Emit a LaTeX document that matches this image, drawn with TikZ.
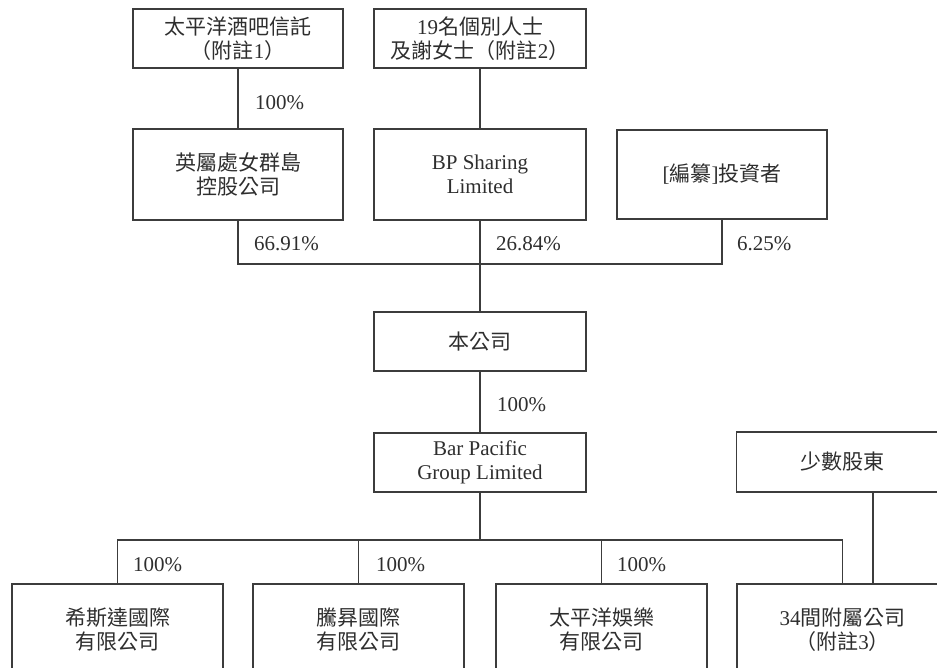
\documentclass[tikz,border=0pt]{standalone}
\usepackage{fontspec}
\setmainfont{Liberation Serif}
\newfontfamily\cj{Noto Sans CJK TC}[Scale=1.0]
\definecolor{linec}{HTML}{3C3C3C}
\definecolor{textc}{HTML}{2E2E2E}
\begin{document}
\begin{tikzpicture}[x=1pt,y=-1pt,
  box/.style={draw=linec, line width=1.5pt, minimum width=211pt, inner sep=0pt,
    align=center, text=textc, font=\fontsize{21}{23.5}\selectfont},
  pct/.style={anchor=west, inner sep=0pt, text=textc, font=\fontsize{21}{23}\selectfont},
  conn/.style={draw=linec, line width=1.5pt}]
\useasboundingbox (0,0) rectangle (937,668);
\clip (0,0) rectangle (937,668);
% top row
\node[box, minimum width=210pt, minimum height=59pt] (A) at (238,38.5) {{\cj 太平洋酒吧信託}\\{\cj （附註}1{\cj ）}};
\node[box, minimum width=212pt, minimum height=59pt] (B) at (480,38.5) {19{\cj 名個別人士}\\{\cj 及謝女士（附註}2{\cj ）}};
% second row
\node[box, minimum width=210pt, minimum height=91pt] (C) at (238,174.5) {{\cj 英屬處女群島}\\{\cj 控股公司}};
\node[box, minimum width=212pt, minimum height=91pt] (D) at (480,174.5) {BP Sharing\\Limited};
\node[box, minimum width=210pt, minimum height=89pt] (E) at (722,174.5) {[{\cj 編纂}]{\cj 投資者}};
% company
\node[box, minimum width=212pt, minimum height=59pt] (F) at (480,341.5) {{\cj 本公司}};
\node[box, minimum width=212pt, minimum height=59pt] (G) at (480,462.5) {Bar Pacific\\Group Limited};
\node[box, minimum width=211pt, minimum height=60pt] (J) at (842,462) {{\cj 少數股東}};
% bottom row
\node[box, minimum height=92pt, anchor=north] (H) at (117.5,583) {{\cj 希斯達國際}\\{\cj 有限公司}};
\node[box, minimum height=92pt, anchor=north] (I) at (358.5,583) {{\cj 騰昪國際}\\{\cj 有限公司}};
\node[box, minimum height=92pt, anchor=north] (L) at (601.5,583) {{\cj 太平洋娛樂}\\{\cj 有限公司}};
\node[box, minimum height=92pt, anchor=north] (K) at (842.5,583) {34{\cj 間附屬公司}\\{\cj （附註}3{\cj ）}};
% connectors
\coordinate (bus1) at (0,264);
\coordinate (bus2) at (0,540);
\coordinate (jk) at (873,0);
\draw[conn] (A.south) -- (C.north);
\draw[conn] (B.south) -- (D.north);
\draw[conn] (C.south) -- (C.south |- bus1) -- (E.south |- bus1) -- (E.south);
\draw[conn] (D.south) -- (F.north);
\draw[conn] (F.south) -- (G.north);
\draw[conn] (G.south) -- (G.south |- bus2);
\draw[conn] (H.north) -- (H.north |- bus2) -- (K.north |- bus2) -- (K.north);
\draw[conn] (I.north) -- (I.north |- bus2);
\draw[conn] (L.north) -- (L.north |- bus2);
\draw[conn] (J.south -| jk) -- (K.north -| jk);
% labels
\node[pct] (p1) at (255,103) {100\%};
\node[pct] (p2) at (254,244) {66.91\%};
\node[pct] (p3) at (496,244) {26.84\%};
\node[pct] (p4) at (737,244) {6.25\%};
\node[pct] (p5) at (497,405) {100\%};
\node[pct] (p6) at (133,565) {100\%};
\node[pct] (p7) at (376,565) {100\%};
\node[pct] (p8) at (617,565) {100\%};
\end{tikzpicture}
\end{document}
